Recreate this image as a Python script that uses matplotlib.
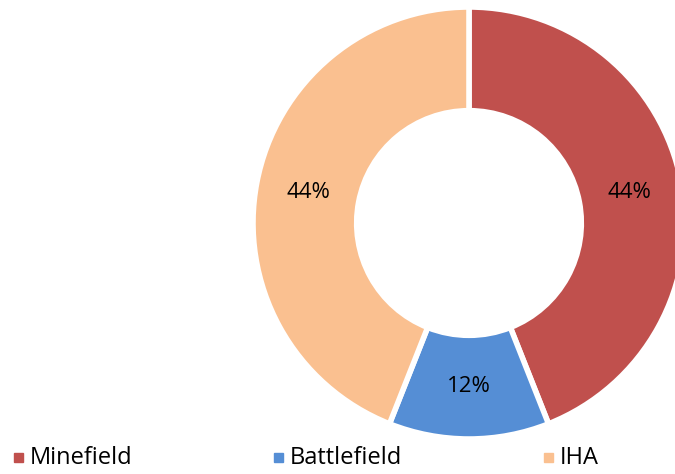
import matplotlib
matplotlib.use("Agg")
import matplotlib.pyplot as plt
from matplotlib.patches import Rectangle
import numpy as np

categories = ["Minefield", "Battlefield", "IHA"]
values = [44, 12, 44]
colors = ["#C0504D", "#558ED5", "#FAC090"]

W, H = 675, 474
plt.rcParams["font.family"] = ["Open Sans", "DejaVu Sans"]
fig = plt.figure(figsize=(W / 100, H / 100), dpi=100)
ax = fig.add_axes([0, 0, 1, 1])

cx, cy, R = 469, H - 223, 216
wedges, texts = ax.pie(
    values, colors=colors, startangle=90, counterclock=False,
    center=(cx, cy), radius=R, frame=True,
    wedgeprops=dict(width=R * 0.48, edgecolor="white", linewidth=4),
)
ax.set_xlim(0, W)
ax.set_ylim(0, H)
ax.set_aspect("equal")
ax.axis("off")

tot = sum(values)
start = 90
lr = R * 0.757
for v in values:
    ang = np.deg2rad(start - v / tot * 360 / 2)
    ax.text(cx + lr * np.cos(ang), cy + lr * np.sin(ang), f"{v}%",
            ha="center", va="center", fontsize=16, color="black")
    start -= v / tot * 360

leg_x = [18, 278, 548]
for x, c, lab in zip(leg_x, colors, categories):
    ax.add_patch(Rectangle((x - 4, H - 462), 9, 9, color=c))
    ax.text(x + 12, H - 458, lab, ha="left", va="center", fontsize=17, color="black")

fig.savefig("out.png", dpi=100)
